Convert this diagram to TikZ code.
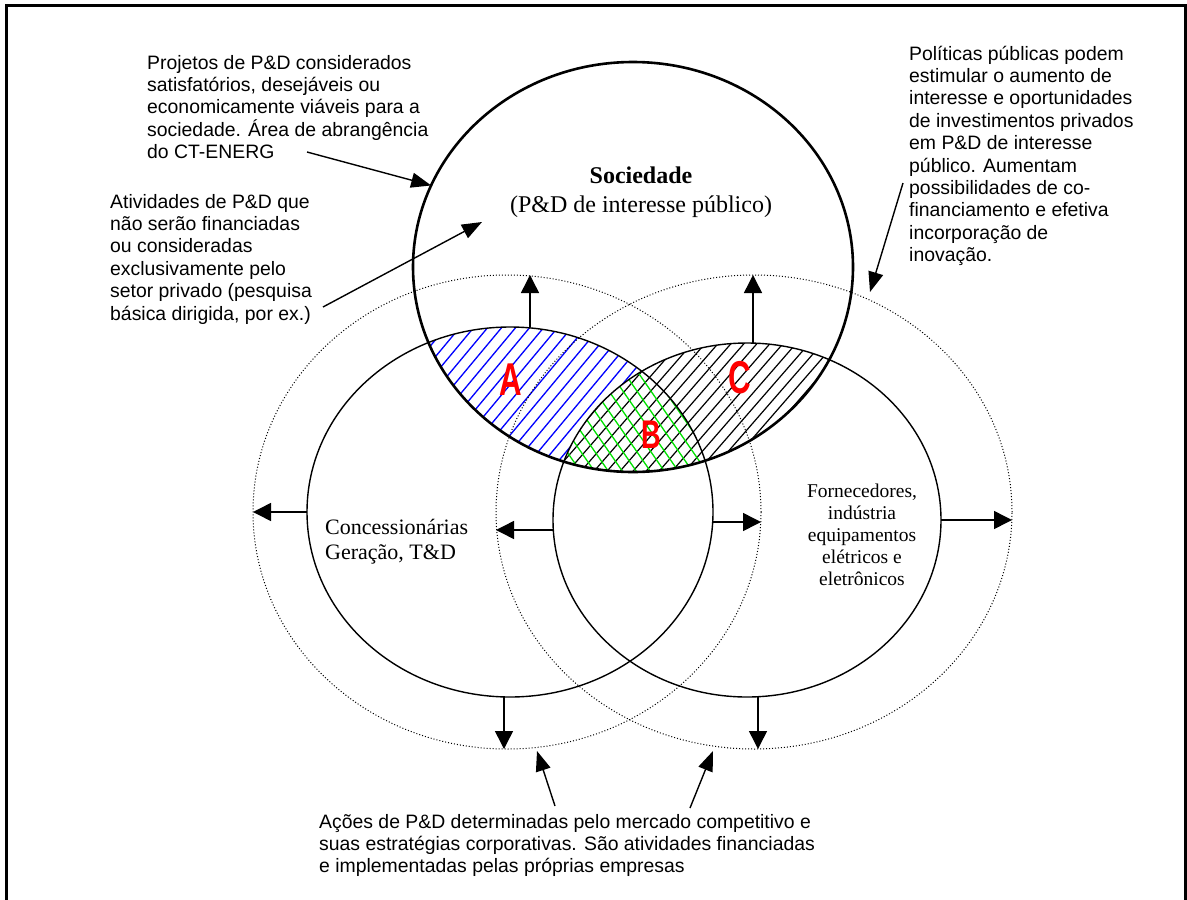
\documentclass[tikz,border=0pt]{standalone}
\usepackage{fontspec}
\setmainfont{Liberation Serif}
\setsansfont{Liberation Sans}
\usetikzlibrary{arrows.meta,shapes.geometric}
\definecolor{hgreen}{RGB}{0,225,0}
\begin{document}
\begin{tikzpicture}[x=1pt,y=-1pt,
  annot/.style={font=\sffamily\fontsize{19.4}{22.4}\selectfont, align=left, inner sep=0pt, anchor=base west},
  ring/.style={ellipse, draw, inner sep=0pt, outer sep=0pt, line width=1.4pt},
  dotring/.style={ellipse, draw, inner sep=0pt, outer sep=0pt, line width=1pt, dash pattern=on 1pt off 2pt},
  arr/.style={line width=1.5pt, -{Triangle[length=18pt,width=18pt]}},
  notearr/.style={line width=1.4pt, -{Triangle[length=20pt,width=15pt]}},
  letter/.style={text=red, font=\sffamily\bfseries\fontsize{46}{46}\selectfont, xscale=0.68, inner sep=0pt},
]
\useasboundingbox (0,0) rectangle (1187,900);
% frame
\draw[line width=3pt] (6.5,900) -- (6.5,5) -- (1185,5) -- (1185,900);

% hatching A (Sociedade ∩ Concessionarias)
\begin{scope}
  \clip (633,267) ellipse [x radius=220pt, y radius=205pt];
  \clip (510,512) ellipse [x radius=203pt, y radius=185pt];
  \foreach \k in {0,...,28} \draw[blue, line width=1.3pt] (260+\k*14,500) -- ++(200,-240);
\end{scope}
% hatching C (Sociedade ∩ Fornecedores)
\begin{scope}
  \clip (633,267) ellipse [x radius=220pt, y radius=205pt];
  \clip (747,520) ellipse [x radius=194pt, y radius=177pt];
  \fill[white] (400,250) rectangle (900,500);
  \foreach \k in {0,...,34} \draw[black, line width=1.2pt] (400+\k*13,500) -- ++(220,-253);
\end{scope}
% hatching B (all three)
\begin{scope}
  \clip (633,267) ellipse [x radius=220pt, y radius=205pt];
  \clip (747,520) ellipse [x radius=194pt, y radius=177pt];
  \clip (510,512) ellipse [x radius=203pt, y radius=185pt];
  \foreach \k in {0,...,20} \draw[hgreen, line width=1.3pt] (420+\k*14,300) -- ++(150,217);
\end{scope}

% circles
\node[dotring, minimum width=508pt, minimum height=474pt] (LD) at (507,512) {};
\node[dotring, minimum width=516pt, minimum height=474pt] (RD) at (754,512) {};
\node[ring, minimum width=406pt, minimum height=370pt] (L) at (510,512) {};
\node[ring, minimum width=388pt, minimum height=354pt] (R) at (747,520) {};
\node[ellipse, draw, inner sep=0pt, outer sep=0pt, line width=2.6pt, minimum width=440pt, minimum height=410pt] (soc) at (633,267) {};

% letters
\node[letter] (la) at (511,380) {A};
\node[letter, font=\sffamily\bfseries\fontsize{40}{40}\selectfont] (lb) at (651,435) {B};
\node[letter] (lc) at (740,378) {C};

% texts
\node[font=\bfseries\fontsize{24}{28}\selectfont, inner sep=0pt, anchor=base] (soct) at (641,183) {Sociedade};
\node[font=\fontsize{24}{28}\selectfont, inner sep=0pt, anchor=base] (socs) at (641,212) {(P\&D de interesse público)};
\node[font=\fontsize{22}{25}\selectfont, align=left, inner sep=0pt, anchor=base west] (lt) at (325,559) {Concessionárias\\Geração, T\&D};
\node[font=\fontsize{19.5}{22}\selectfont, align=center, inner sep=0pt, anchor=base] (rt) at (862,585) {Fornecedores,\\indústria\\equipamentos\\elétricos e\\eletrônicos};

\node[annot] (n1) at (147,158.6) {Projetos de P\&D considerados\\satisfatórios, desejáveis ou\\economicamente viáveis para a\\sociedade. Área de abrangência\\do CT-ENERG};
\node[annot] (n2) at (110,320) {Atividades de P\&D que\\não serão financiadas\\ou consideradas\\exclusivamente pelo\\setor privado (pesquisa\\básica dirigida, por ex.)};
\node[annot] (n3) at (909,261.6) {Políticas públicas podem\\estimular o aumento de\\interesse e oportunidades\\de investimentos privados\\em P\&D de interesse\\público. Aumentam\\possibilidades de co-\\financiamento e efetiva\\incorporação de\\inovação.};
\node[annot] (n4) at (319,872.8) {Ações de P\&D determinadas pelo mercado competitivo e\\suas estratégias corporativas. São atividades financiadas\\e implementadas pelas próprias empresas};

% ring arrows
\draw[arr] ([xshift=20pt]L.north) -- ([xshift=20pt]L.north |- LD.north);
\draw[arr] ([xshift=6pt]R.north) -- ([xshift=6pt]R.north |- RD.north);
\draw[arr] (L.west) -- (L.west -| LD.west);
\draw[arr] ([yshift=-10pt]R.west) -- ([yshift=-10pt]R.west -| RD.west);
\draw[arr] ([yshift=-10pt]L.east) -- ([yshift=-10pt]L.east -| LD.east);
\draw[arr] (R.east) -- (R.east -| RD.east);
\draw[arr] ([xshift=-6pt]L.south) -- ([xshift=-6pt]L.south |- LD.south);
\draw[arr] ([xshift=11pt]R.south) -- ([xshift=11pt]R.south |- RD.south);

% note arrows
\coordinate (a1s) at (307,152);
\coordinate (a2s) at (323,307);
\coordinate (a2e) at (482,222);
\coordinate (a3s) at (903,183);
\coordinate (a3e) at (870,292);
\coordinate (a4s) at (555,806);
\coordinate (a4e) at (537,751);
\coordinate (a5s) at (690,808);
\coordinate (a5e) at (713,751);
\draw[notearr] (a1s) -- (soc.158.5);
\draw[notearr] (a2s) -- (a2e);
\draw[notearr] (a3s) -- (a3e);
\draw[notearr] (a4s) -- (a4e);
\draw[notearr] (a5s) -- (a5e);
\end{tikzpicture}
\end{document}
